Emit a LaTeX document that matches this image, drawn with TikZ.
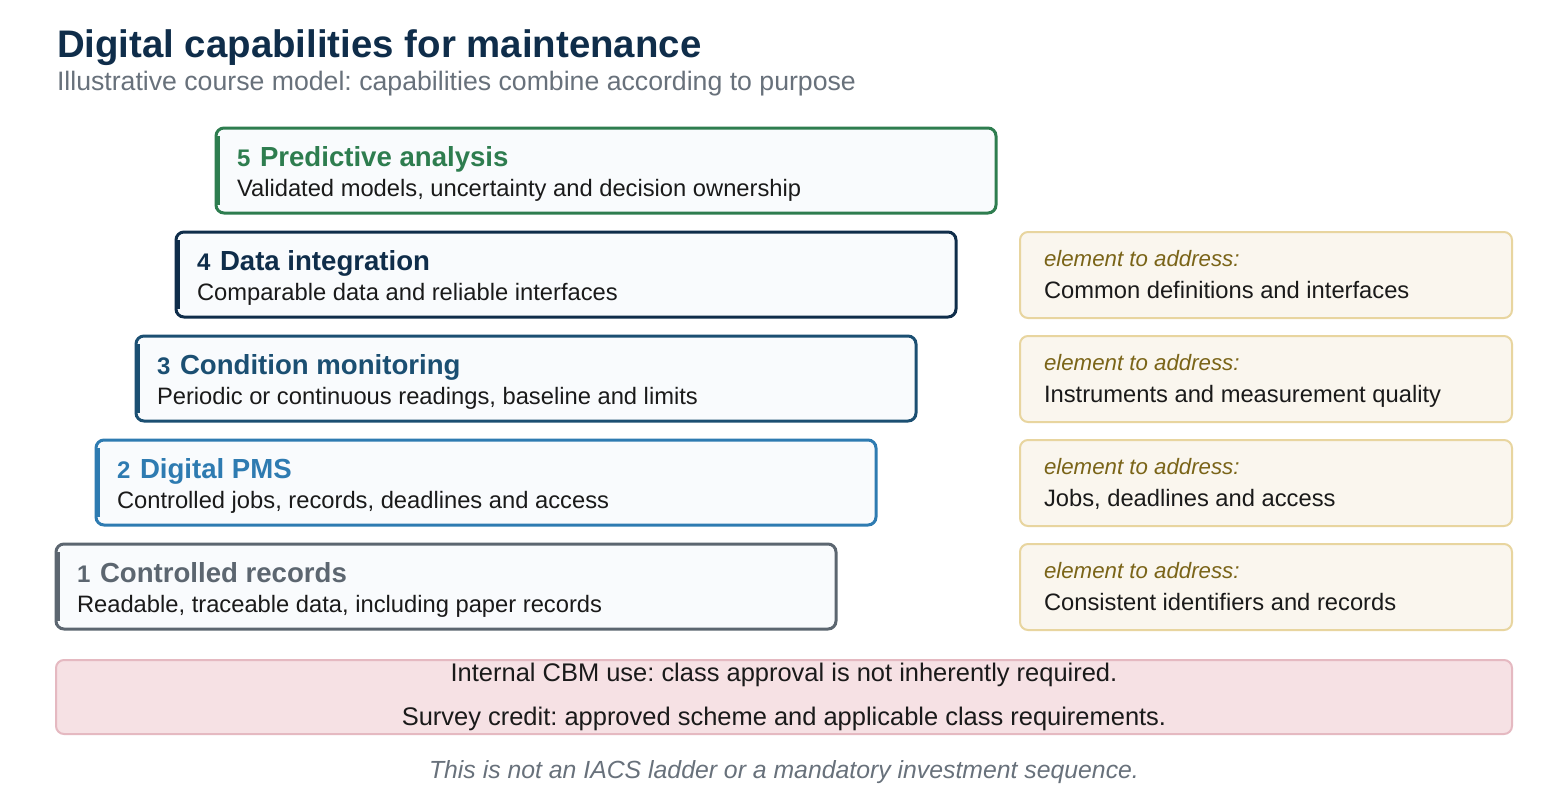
\documentclass[tikz,border=0pt]{standalone}
\usepackage{fontspec}
\setmainfont{Liberation Sans}
\frenchspacing
\definecolor{cgreen}{HTML}{2E7D4F}
\definecolor{cnavy}{HTML}{0F2D4A}
\definecolor{cblue3}{HTML}{1B4F72}
\definecolor{cblue2}{HTML}{2E7BB1}
\definecolor{cgray1}{HTML}{5C6670}
\definecolor{ctext}{HTML}{1A1A1A}
\definecolor{csub}{HTML}{68717B}
\definecolor{cboxfill}{HTML}{F9FBFD}
\definecolor{cnotefill}{HTML}{FAF6EE}
\definecolor{cnoteline}{HTML}{E8D59F}
\definecolor{cnotelabel}{HTML}{7A6418}
\definecolor{credfill}{HTML}{F6E1E4}
\definecolor{credline}{HTML}{E5B9C1}
\newcommand{\fs}[1]{\fontsize{#1}{#1}\selectfont}
\begin{document}
\begin{tikzpicture}[x=0.75pt,y=-0.75pt,
  capbox/.style={draw=#1,line width=2.25pt,rounded corners=6pt,fill=cboxfill},
  notebox/.style={draw=cnoteline,line width=1.5pt,rounded corners=6pt,fill=cnotefill},
  txt/.style={anchor=base west,inner sep=0pt,outer sep=0pt},
  ctxt/.style={anchor=base,inner sep=0pt,outer sep=0pt}]
\useasboundingbox[fill=white] (0,0) rectangle (1568,800);
% title
\node[txt,text=cnavy,font=\bfseries\fs{28.8}] (title) at (57,57) {Digital capabilities for maintenance};
\node[txt,text=csub,font=\fs{20}] (subtitle) at (57,90) {Illustrative course model: capabilities combine according to purpose};
% capability boxes
\foreach \i/\x/\y/\c/\t/\s in {
  5/216/128/cgreen/Predictive analysis/{Validated models, uncertainty and decision ownership},
  4/176/232/cnavy/Data integration/{Comparable data and reliable interfaces},
  3/136/336/cblue3/Condition monitoring/{Periodic or continuous readings, baseline and limits},
  2/96/440/cblue2/Digital PMS/{Controlled jobs, records, deadlines and access},
  1/56/544/cgray1/Controlled records/{Readable, traceable data, including paper records}}{
  \draw[capbox=\c] (\x,\y) rectangle ++(780,85);
  \fill[\c] (\x-1.5,\y+8) rectangle (\x+4,\y+77);
  \node[txt,text=\c,font=\bfseries\fs{18}] (num\i) at (\x+21,\y+38) {\i};
  \node[txt,text=\c,font=\bfseries\fs{20.7}] (cap\i) at (\x+44,\y+38) {\t};
  \node[txt,text=ctext,font=\fs{17.8}] (desc\i) at (\x+21,\y+68) {\s};
}
% note boxes
\foreach \j/\y/\s in {
  4/232/Common definitions and interfaces,
  3/336/Instruments and measurement quality,
  2/440/{Jobs, deadlines and access},
  1/544/Consistent identifiers and records}{
  \draw[notebox] (1020,\y) rectangle (1512,\y+86);
  \node[txt,text=cnotelabel,font=\itshape\fs{16.7}] (lab\j) at (1044,\y+34) {element to address:};
  \node[txt,text=ctext,font=\fs{17.8}] (note\j) at (1044,\y+66) {\s};
}
% red box
\draw[draw=credline,line width=1.5pt,rounded corners=6pt,fill=credfill] (56,660) rectangle (1512,734);
\node[ctxt,text=ctext,font=\fs{19.1}] (red1) at (784,681) {Internal CBM use: class approval is not inherently required.};
\node[ctxt,text=ctext,font=\fs{19.1}] (red2) at (784,725) {Survey credit: approved scheme and applicable class requirements.};
% footer
\node[ctxt,text=csub,font=\itshape\fs{18.6}] (foot) at (784,778) {This is not an IACS ladder or a mandatory investment sequence.};
\end{tikzpicture}
\end{document}
